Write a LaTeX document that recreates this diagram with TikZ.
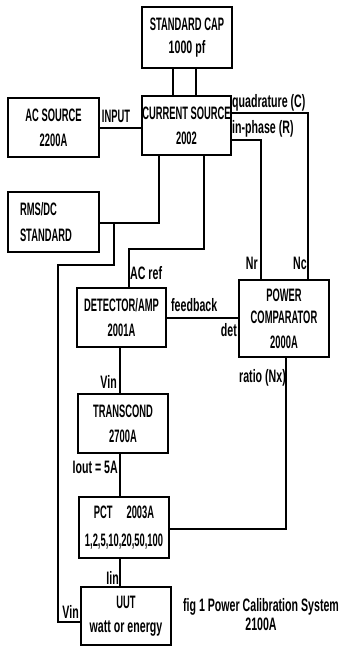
\documentclass[tikz,border=0pt]{standalone}
\usepackage{fontspec}
\setmainfont{Liberation Sans}[FakeStretch=0.52]
\newfontfamily\lowfont{Liberation Sans}[FakeStretch=0.59]
\begin{document}
\begin{tikzpicture}[x=1pt,y=-1pt,
  every node/.style={font=\bfseries\fontsize{18}{23}\selectfont},
  box/.style={draw,line width=2.7pt,inner sep=0pt,align=center},
  wire/.style={line width=2pt},
  lbl/.style={inner sep=0pt,font=\lowfont\bfseries\fontsize{18}{23}\selectfont}]
\useasboundingbox (0,0) rectangle (341,646);
% boxes
\node[box,minimum width=90,minimum height=61] (cap) at (187,37.5) {STANDARD CAP\\{\lowfont 1000 pf}};
\node[box,minimum width=89,minimum height=59] (cur) at (186.5,125.5) {CURRENT SOURCE\\[2pt]2002};
\node[box,minimum width=91,minimum height=59] (ac) at (53.5,127.5) {AC SOURCE\\[2pt]2200A};
\node[box,minimum width=91,minimum height=60,align=left,text width=67pt,inner xsep=12pt] (rms) at (53.5,222) {RMS/DC\\[3pt]STANDARD};
\node[box,minimum width=89,minimum height=59] (det) at (121.5,317.5) {DETECTOR/AMP\\[2pt]2001A};
\node[box,minimum width=90,minimum height=77] (pc) at (284,318.5) {POWER\\[-1pt]COMPARATOR\\[2pt]2000A};
\node[box,minimum width=90,minimum height=59] (tr) at (123,423.5) {TRANSCOND\\[2pt]2700A};
\node[box,minimum width=90,minimum height=61] (pct) at (124,527.5) {PCT\hspace{14pt}2003A\\[5pt]1,2,5,10,20,50,100};
\node[box,minimum width=90,minimum height=58] (uut) at (126,616) {UUT\\[1pt]{\lowfont watt or energy}};
% helper coordinates
\coordinate (k1) at (173,0);
\coordinate (k2) at (196,0);
\coordinate (q) at (308,113);
\coordinate (r) at (261,140);
\coordinate (a) at (159,223);
\coordinate (b1) at (114,223);
\coordinate (b2) at (114,265);
\coordinate (b3) at (58,265);
\coordinate (b4) at (58,622);
\coordinate (c1) at (204,249);
\coordinate (c2) at (129,249);
\coordinate (d) at (286,529);
\coordinate (e) at (120,0);
% wires
\draw[wire] (cap.south -| k1) -- (cur.north -| k1);
\draw[wire] (cap.south -| k2) -- (cur.north -| k2);
\draw[wire] (ac.east) -- (ac.east -| cur.west);
\draw[wire] (q -| cur.east) -- (q) -- (q |- pc.north);
\draw[wire] (r -| cur.east) -- (r) -- (r |- pc.north);
\draw[wire] (a |- cur.south) -- (a) -- (a -| rms.east);
\draw[wire] (b1) -- (b2) -- (b3) -- (b4) -- (b4 -| uut.west);
\draw[wire] (c1 |- cur.south) -- (c1) -- (c2) -- (c2 |- det.north);
\draw[wire] (det.east) -- (det.east -| pc.west);
\draw[wire] (d |- pc.south) -- (d) -- (d -| pct.east);
\draw[wire] (e |- det.south) -- (e |- tr.north);
\draw[wire] (e |- tr.south) -- (e |- pct.north);
\draw[wire] (e |- pct.south) -- (e |- uut.north);
% labels
\node[lbl,font=\bfseries\fontsize{18}{23}\selectfont] (lin) at (116,116) {INPUT};
\node[lbl,anchor=west] (lq) at (232,103) {quadrature (C)};
\node[lbl,anchor=west] (lr) at (232,129) {in-phase (R)};
\node[lbl,anchor=west] (lac) at (130,273) {AC ref};
\node[lbl,anchor=west] (lfb) at (171,305) {feedback};
\node[lbl,anchor=east] (ldet) at (237,330) {det};
\node[lbl,anchor=east] (lnr) at (258,263) {Nr};
\node[lbl,anchor=east] (lnc) at (307,263) {Nc};
\node[lbl,anchor=west] (lrat) at (239,378) {ratio (Nx)};
\node[lbl,anchor=east] (lv1) at (117,382) {Vin};
\node[lbl,anchor=east] (lio) at (118,467) {Iout = 5A};
\node[lbl,anchor=east] (lii) at (119,578) {Iin};
\node[lbl,anchor=east] (lv2) at (79,612) {Vin};
\node[lbl,align=center] (cap2) at (261,615) {fig 1 Power Calibration System\\[-4pt]2100A};
\end{tikzpicture}
\end{document}
